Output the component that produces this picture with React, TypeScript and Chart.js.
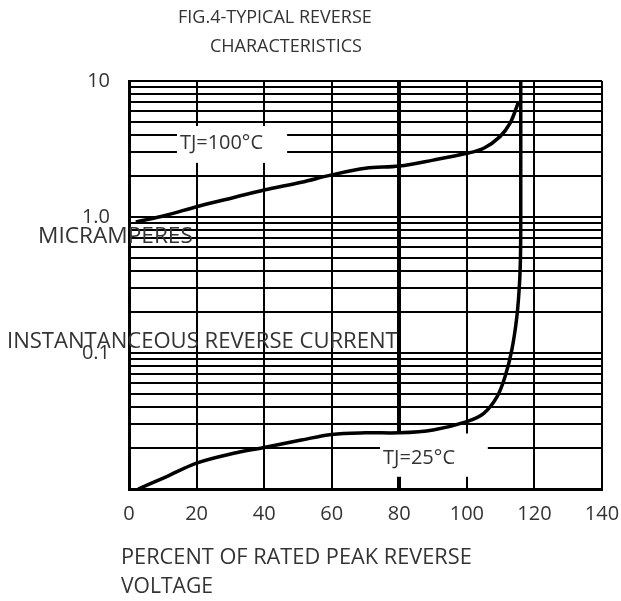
import { useEffect, useRef } from "react";
import { Chart, registerables } from "chart.js";

Chart.register(...registerables);

// ---- data ----
const X_TICKS = [0, 20, 40, 60, 80, 100, 120, 140];
const Y_GRID = [
  0.01, 0.02, 0.03, 0.04, 0.05, 0.06, 0.07, 0.08, 0.09,
  0.1, 0.2, 0.3, 0.4, 0.5, 0.6, 0.7, 0.8, 0.9,
  1, 2, 3, 4, 5, 6, 7, 8, 9, 10,
];
const Y_LABELS: [number, string][] = [
  [10, "10"],
  [1, "1.0"],
  [0.1, "0.1"],
];

const TJ100_X = [2, 11, 20, 31, 40, 51, 60, 70, 80, 90, 100, 105, 109.8, 112.8, 114.8, 115.3];
const TJ100_Y = [0.92, 1.03, 1.19, 1.39, 1.58, 1.8, 2.04, 2.28, 2.37, 2.62, 2.94, 3.2, 3.9, 4.9, 6.5, 7.1];

const TJ25_X = [2.7, 11, 20, 31, 40, 51, 60, 70, 80, 90, 100, 105, 109, 111.3, 113.3, 114.8, 115.6, 115.9, 115.95, 115.95];
const TJ25_Y = [0.01, 0.0123, 0.0155, 0.0183, 0.0202, 0.0229, 0.0252, 0.0259, 0.0259, 0.0272, 0.0313, 0.036, 0.048, 0.067, 0.105, 0.185, 0.33, 0.57, 1.5, 10];

const TITLE_1 = "FIG.4-TYPICAL REVERSE";
const TITLE_2 = "CHARACTERISTICS";
const Y_TITLE_1 = "MICRAMPERES";
const Y_TITLE_2 = "INSTANTANCEOUS REVERSE CURRENT";
const X_TITLE_1 = "PERCENT OF RATED PEAK REVERSE";
const X_TITLE_2 = "VOLTAGE";
const LABEL_100 = "TJ=100°C";
const LABEL_25 = "TJ=25°C";

const FONT = "'Open Sans', 'Noto Sans', sans-serif";
const TEXT_COLOR = "#333";

function fitText(ctx: CanvasRenderingContext2D, text: string, left: number, cy: number, width: number) {
  ctx.font = `20px ${FONT}`;
  const w = ctx.measureText(text).width;
  const size = (20 * width) / w;
  ctx.font = `${size}px ${FONT}`;
  ctx.textAlign = "left";
  ctx.textBaseline = "middle";
  ctx.fillText(text, left, cy);
}

const figTextPlugin = {
  id: "figText",
  beforeDatasetsDraw(chart: any) {
    const { ctx, scales } = chart;
    const x = scales.x;
    const y = scales.y;
    ctx.save();
    ctx.fillStyle = "#fff";
    const a1 = x.getPixelForValue(14.2), a2 = x.getPixelForValue(46.8);
    const b1 = y.getPixelForValue(4.67), b2 = y.getPixelForValue(2.5);
    ctx.fillRect(a1, b1, a2 - a1, b2 - b1);
    const c1 = x.getPixelForValue(74.3), c2 = x.getPixelForValue(106.2);
    const d1 = y.getPixelForValue(0.0256), d2 = y.getPixelForValue(0.0123);
    ctx.fillRect(c1, d1, c2 - c1, d2 - d1);
    ctx.fillStyle = TEXT_COLOR;
    fitText(ctx, LABEL_100, a1 + 3, (b1 + b2) / 2 - 1, 83);
    fitText(ctx, LABEL_25, c1 + 3, (d1 + d2) / 2 + 3, 72);
    ctx.restore();
  },
  afterDraw(chart: any) {
    const { ctx } = chart;
    ctx.save();
    ctx.fillStyle = TEXT_COLOR;
    fitText(ctx, TITLE_1, 178, 18, 194);
    fitText(ctx, TITLE_2, 210, 47, 152);
    fitText(ctx, Y_TITLE_1, 38, 237, 155);
    fitText(ctx, Y_TITLE_2, 7, 342, 391);
    fitText(ctx, X_TITLE_1, 121, 558, 351);
    fitText(ctx, X_TITLE_2, 121, 587, 92);
    ctx.restore();
  },
};

export default function App() {
  const ref = useRef<HTMLCanvasElement | null>(null);

  useEffect(() => {
    if (!ref.current) return;
    const toPts = (xs: number[], ys: number[]) => xs.map((v, i) => ({ x: v, y: ys[i] }));
    const chart = new Chart(ref.current, {
      type: "line",
      data: {
        datasets: [
          {
            label: "TJ=100",
            data: toPts(TJ100_X, TJ100_Y),
            borderColor: "#000",
            borderWidth: 3.5,
            pointRadius: 0,
            tension: 0.35,
            fill: false,
          },
          {
            label: "TJ=25",
            data: toPts(TJ25_X, TJ25_Y),
            borderColor: "#000",
            borderWidth: 3.5,
            pointRadius: 0,
            tension: 0.35,
            fill: false,
          },
        ],
      },
      options: {
        animation: false,
        responsive: false,
        devicePixelRatio: 1,
        layout: { padding: { left: 0, right: 19, top: 81, bottom: 0 } },
        plugins: {
          legend: { display: false },
          tooltip: { enabled: false },
          title: { display: false },
        },
        scales: {
          x: {
            type: "linear",
            min: 0,
            max: 140,
            afterBuildTicks: (s: any) => {
              s.ticks = X_TICKS.map((v) => ({ value: v }));
            },
            afterFit: (s: any) => {
              s.height = 112;
              s.paddingLeft = 0;
              s.paddingRight = 0;
            },
            ticks: {
              autoSkip: false,
              maxRotation: 0,
              padding: 13,
              color: TEXT_COLOR,
              font: { family: FONT, size: 20 },
              callback: (v: any) => String(v),
            },
            grid: {
              color: "#000",
              lineWidth: (c: any) => (c.tick && c.tick.value === 80 ? 4 : 2),
              drawTicks: false,
            },
            border: { display: true, color: "#000", width: 3 },
          },
          y: {
            type: "logarithmic",
            min: 0.01,
            max: 10,
            afterBuildTicks: (s: any) => {
              s.ticks = Y_GRID.map((v) => ({ value: v }));
            },
            afterFit: (s: any) => {
              s.width = 129;
              s.paddingTop = 0;
              s.paddingBottom = 0;
            },
            ticks: {
              autoSkip: false,
              padding: 19,
              color: TEXT_COLOR,
              font: { family: FONT, size: 20 },
              callback: (v: any) => {
                const f = Y_LABELS.find(([k]) => Math.abs(k - Number(v)) < 1e-9);
                return f ? f[1] : "";
              },
            },
            grid: { color: "#000", lineWidth: 2, drawTicks: false },
            border: { display: true, color: "#000", width: 3 },
          },
        },
      },
      plugins: [figTextPlugin],
    } as any);
    return () => chart.destroy();
  }, []);

  return (
    <div style={{ position: "fixed", left: 0, top: 0, width: 621, height: 601, background: "#fff" }}>
      <canvas ref={ref} width={621} height={601} style={{ width: 621, height: 601 }} />
    </div>
  );
}
